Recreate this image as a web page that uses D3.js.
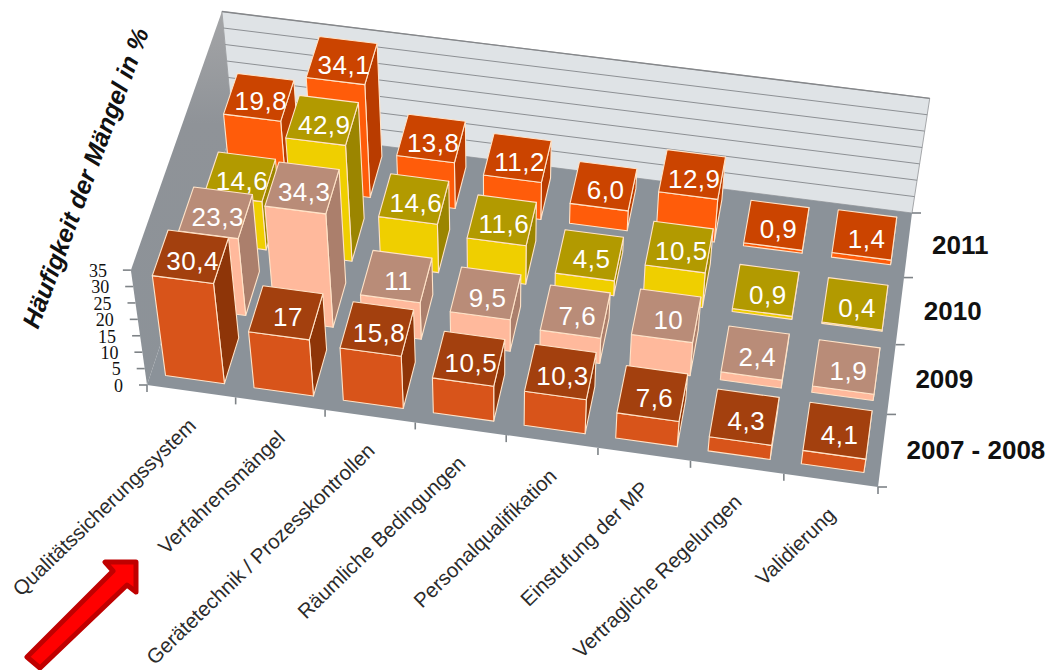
<!DOCTYPE html>
<html><head><meta charset="utf-8">
<script src="https://cdn.jsdelivr.net/npm/d3@7"></script>
<style>html,body{margin:0;padding:0;background:#fff;overflow:hidden}svg{display:block}</style></head>
<body><svg id="c" width="1053" height="670"></svg>
<script>
const categories=["Qualitätssicherungssystem","Verfahrensmängel","Gerätetechnik / Prozesskontrollen","Räumliche Bedingungen","Personalqualifikation","Einstufung der MP","Vertragliche Regelungen","Validierung"];
const seriesNames=["2007 - 2008","2009","2010","2011"];
const values2007=[30.4,17,15.8,10.5,10.3,7.6,4.3,4.1];
const values2009=[23.3,34.3,11,9.5,7.6,10,2.4,1.9];
const values2010=[14.6,42.9,14.6,11.6,4.5,10.5,0.9,0.4];
const values2011=[19.8,34.1,13.8,11.2,6.0,12.9,0.9,1.4];
const labels2007=["30,4","17","15,8","10,5","10,3","7,6","4,3","4,1"];
const labels2009=["23,3","34,3","11","9,5","7,6","10","2,4","1,9"];
const labels2010=["14,6","42,9","14,6","11,6","4,5","10,5","0,9","0,4"];
const labels2011=["19,8","34,1","13,8","11,2","6,0","12,9","0,9","1,4"];
const zTicks=[0,5,10,15,20,25,30,35];
const seriesValues=[values2007,values2009,values2010,values2011];
const seriesLabels=[labels2007,labels2009,labels2010,labels2011];
const palette=[
 {front:"#D8541A",top:"#A3400E",side:"#8E3508"},
 {front:"#FFB99C",top:"#B98C78",side:"#AB7F6C"},
 {front:"#EFCF00",top:"#B29A00",side:"#9B8500"},
 {front:"#FF5C0A",top:"#CB4400",side:"#B93C00"}];

// floor corners in the picture and vertical vanishing point
const A=[147,385],B=[878,487],C=[912,213],D=[233,127],V=[498,2887];
// projective map of the unit square onto the floor quad
const H=(()=>{const dx1=B[0]-C[0],dx2=D[0]-C[0],sx=A[0]-B[0]+C[0]-D[0],dy1=B[1]-C[1],dy2=D[1]-C[1],sy=A[1]-B[1]+C[1]-D[1];
 const det=dx1*dy2-dx2*dy1,g=(sx*dy2-dx2*sy)/det,h=(dx1*sy-sx*dy1)/det;
 return {a:B[0]-A[0]+g*B[0],b:D[0]-A[0]+h*D[0],c:A[0],d:B[1]-A[1]+g*B[1],e:D[1]-A[1]+h*D[1],f:A[1],g,h};})();
function floorPt(u,v){const w=H.g*u+H.h*v+1;return [(H.a*u+H.b*v+H.c)/w,(H.d*u+H.e*v+H.f)/w];}
const zScale=d3.scaleLinear().domain([0,35]).range([0,116]).clamp(true);
function project(u,v,z){const F=floorPt(u,v),dx=F[0]-V[0],dy=F[1]-V[1],L=Math.hypot(dx,dy),h=zScale(z);return [F[0]+dx/L*h,F[1]+dy/L*h];}

const xBand=d3.scaleBand().domain(d3.range(categories.length)).range([0,1]).paddingInner(1/3).paddingOuter(1/6);
const yBand=d3.scaleBand().domain(d3.range(seriesNames.length)).range([0,1]).paddingInner(1/3).paddingOuter(1/6);
const line=d3.line().curve(d3.curveLinearClosed);
const svg=d3.select("#c");
const defs=svg.append("defs");
const g1=defs.append("linearGradient").attr("id","wallL").attr("x1",0).attr("y1",0).attr("x2",0).attr("y2",1);
g1.append("stop").attr("offset",0).attr("stop-color","#A4A5A7");
g1.append("stop").attr("offset",.3).attr("stop-color","#8F9398");
g1.append("stop").attr("offset",1).attr("stop-color","#8C9298");

// walls and floor
svg.append("path").attr("d",line([project(0,1,35),project(1,1,35),project(1,1,0),project(0,1,0)])).attr("fill","#DFE3E6").attr("stroke","#A5A7AA").attr("stroke-width",1);
svg.append("path").attr("d",line([project(0,0,35),project(0,1,35),project(0,1,0),project(0,0,0)])).attr("fill","url(#wallL)");
svg.append("path").attr("d",line([A,B,C,D])).attr("fill","#8B9299");
// gridlines on back wall
svg.append("g").selectAll("line").data(zTicks.slice(1)).join("line")
 .attr("x1",d=>project(0,1,d)[0]).attr("y1",d=>project(0,1,d)[1])
 .attr("x2",d=>project(1,1,d)[0]).attr("y2",d=>project(1,1,d)[1])
 .attr("stroke",d=>d===35?"#85878A":"#8D9094").attr("stroke-width",d=>d===35?1.4:1);

// axis ticks
const ax=svg.append("g").attr("stroke","#7E8387").attr("stroke-width",1.6);
ax.selectAll(".zt").data(zTicks).join("line").attr("class","zt")
 .attr("x1",d=>project(0,0,d)[0]).attr("y1",d=>project(0,0,d)[1])
 .attr("x2",d=>project(0,0,d)[0]-8).attr("y2",d=>project(0,0,d)[1]);
ax.selectAll(".xt").data(d3.range(categories.length+1)).join("line").attr("class","xt")
 .attr("x1",i=>floorPt(i/8,0)[0]).attr("y1",i=>floorPt(i/8,0)[1])
 .attr("x2",i=>floorPt(i/8,0)[0]).attr("y2",i=>floorPt(i/8,0)[1]+7);
ax.selectAll(".yt").data(d3.range(seriesNames.length+1)).join("line").attr("class","yt")
 .attr("x1",i=>floorPt(1,i/4)[0]).attr("y1",i=>floorPt(1,i/4)[1])
 .attr("x2",i=>floorPt(1,i/4)[0]+9).attr("y2",i=>floorPt(1,i/4)[1]);

// bars, back to front
const bars=svg.append("g").attr("stroke","#FFE3C8").attr("stroke-width",1.1).attr("stroke-linejoin","round");
const texts=[];
d3.range(seriesNames.length).reverse().forEach(s=>{
 const v0=yBand(s),v1=v0+yBand.bandwidth(),col=palette[s];
 categories.forEach((c,i)=>{
  const u0=xBand(i),u1=u0+xBand.bandwidth(),z=seriesValues[s][i];
  const g=bars.append("g");
  g.append("path").attr("d",line([project(u1,v0,0),project(u1,v1,0),project(u1,v1,z),project(u1,v0,z)])).attr("fill",col.side);
  g.append("path").attr("d",line([project(u0,v0,0),project(u1,v0,0),project(u1,v0,z),project(u0,v0,z)])).attr("fill",col.front);
  g.append("path").attr("d",line([project(u0,v0,z),project(u1,v0,z),project(u1,v1,z),project(u0,v1,z)])).attr("fill",col.top);
  const p=project((u0+u1)/2,(v0+v1)/2,z);
  texts.push({x:p[0]+2,y:p[1]+4,t:seriesLabels[s][i]});
 });
});
svg.append("g").selectAll("text").data(texts).join("text")
 .attr("x",d=>d.x).attr("y",d=>d.y).attr("dy","0.36em").attr("text-anchor","middle")
 .attr("font-family","Liberation Sans").attr("font-size",26).attr("letter-spacing",0.5).attr("fill","#FFFFFF").text(d=>d.t);

// z axis labels
svg.append("g").selectAll("text").data(zTicks).join("text")
 .attr("x",d=>project(0,0,d)[0]-24).attr("y",d=>project(0,0,d)[1]+1).attr("dy","0.32em").attr("text-anchor","end")
 .attr("font-family","Liberation Serif").attr("font-size",18).attr("fill","#111").text(d=>d);

// category labels
svg.append("g").selectAll("text").data(categories).join("text")
 .attr("transform",(d,i)=>{const p=floorPt((i+.5)/8,0);return `translate(${p[0]+6},${p[1]+36}) rotate(-44)`;})
 .attr("text-anchor","end").attr("font-family","Liberation Sans").attr("font-size",20.5).attr("fill","#2b2b2b").text(d=>d);

// series labels
svg.append("g").selectAll("text").data(seriesNames).join("text")
 .attr("x",(d,i)=>floorPt(1,(i+.5)/4)[0]+24).attr("y",(d,i)=>floorPt(1,(i+.5)/4)[1]+9)
 .attr("font-family","Liberation Sans").attr("font-weight","bold").attr("font-size",26).attr("fill","#111").text(d=>d);

// axis title
svg.append("text").attr("transform","translate(38,330) rotate(-69.5)")
 .attr("font-family","Liberation Sans").attr("font-weight","bold").attr("font-style","italic").attr("font-size",25).attr("fill","#111")
 .text("Häufigkeit der Mängel in %");

// arrow annotation
svg.append("path").attr("d","M27,657 L113,571 L105,562 L136,562 L136,592 L127,585 L40,668 Z")
 .attr("fill","#FF0000").attr("stroke","#C00000").attr("stroke-width",5).attr("stroke-linejoin","round");
</script></body></html>
